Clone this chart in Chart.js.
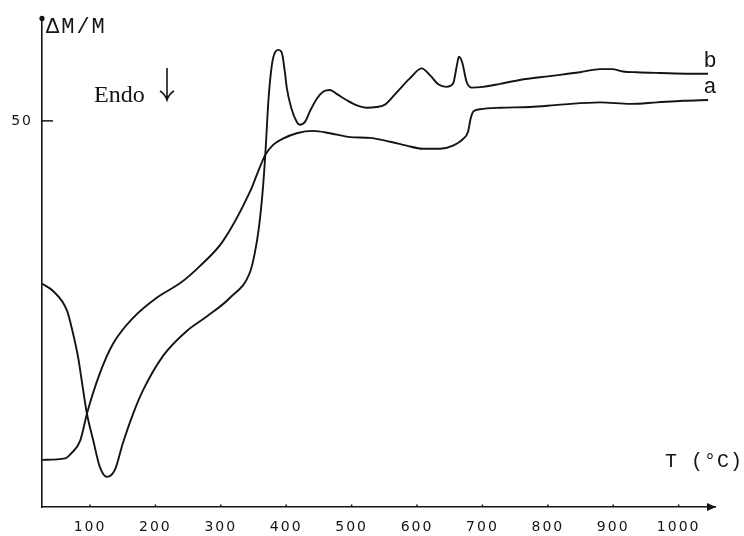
<!DOCTYPE html>
<html>
<head>
<meta charset="utf-8">
<script src="https://cdn.jsdelivr.net/npm/chart.js@4.4.1/dist/chart.umd.min.js"></script>
<style>
  html, body { margin: 0; padding: 0; background: #fff; }
  #wrap { width: 744px; height: 536px; }
</style>
</head>
<body>
<div id="wrap"><canvas id="dtg"></canvas></div>
<script>
// curve a (lower one at the right end)
var tempA = [27, 62, 72, 85, 96, 115, 135, 166, 202, 238, 268, 303, 345, 355, 368, 380, 395, 416, 441, 467, 498, 528, 559, 584, 609, 635, 655, 671, 678, 682, 686, 696, 727, 773, 819, 880, 926, 967, 1007, 1045];
var valA  = [6.1, 6.3, 7.0, 8.6, 12.3, 17.3, 21.1, 24.5, 27.1, 29.0, 31.2, 34.4, 40.9, 43.0, 45.6, 46.9, 47.7, 48.4, 48.7, 48.4, 47.9, 47.8, 47.3, 46.8, 46.4, 46.4, 46.8, 47.7, 48.6, 50.3, 51.2, 51.5, 51.7, 51.8, 52.1, 52.4, 52.2, 52.4, 52.6, 52.7];

// curve b (the one with the peaks)
var tempB = [27, 43, 65, 72, 82, 88, 95, 105, 115, 126, 138, 150, 166, 181, 212, 248, 279, 314, 345, 352, 358, 364, 368, 373, 378, 383, 388, 393, 398, 401, 408, 416, 421, 429, 436, 447, 457, 467, 477, 492, 508, 523, 538, 551, 569, 589, 607, 620, 633, 645, 655, 661, 664, 669, 676, 684, 701, 727, 757, 803, 849, 880, 898, 915, 936, 972, 1017, 1045];
var valB  = [28.9, 28.0, 25.4, 23.2, 19.3, 16.0, 12.2, 8.6, 5.2, 3.9, 4.8, 8.2, 12.1, 15.1, 19.6, 22.8, 24.7, 27.1, 30.5, 32.9, 36.0, 40.9, 45.6, 52.9, 57.2, 58.9, 59.2, 58.9, 56.3, 54.2, 51.6, 49.9, 49.5, 49.9, 51.2, 52.9, 53.8, 54.0, 53.5, 52.7, 52.0, 51.7, 51.8, 52.1, 53.7, 55.5, 56.8, 55.9, 54.7, 54.4, 54.8, 57.2, 58.3, 57.6, 55.0, 54.3, 54.4, 54.8, 55.3, 55.8, 56.3, 56.7, 56.7, 56.4, 56.3, 56.2, 56.1, 56.1];

var xTicks = [100, 200, 300, 400, 500, 600, 700, 800, 900, 1000];
var yTicks = [50];
var curveNames = ['a', 'b'];

function pares(t, v) {
  var out = [];
  for (var i = 0; i < t.length; i++) out.push({x: t[i], y: v[i]});
  return out;
}

var ink = '#141414';

var crtez = {
  id: 'crtez',
  beforeDraw: function(chart) {
    chart.ctx.letterSpacing = '2px';
  },
  afterDraw: function(chart) {
    var ctx = chart.ctx;
    var a = chart.chartArea;
    var xs = chart.scales.x, ys = chart.scales.y;
    ctx.save();
    ctx.letterSpacing = '0px';
    ctx.strokeStyle = ink;
    ctx.fillStyle = ink;
    ctx.lineWidth = 1.5;

    // small inner ticks on the T axis
    xTicks.forEach(function(t) {
      var px = xs.getPixelForValue(t);
      ctx.beginPath();
      ctx.moveTo(px, a.bottom);
      ctx.lineTo(px, a.bottom - 2.5);
      ctx.stroke();
    });
    // tick at 50, inward
    yTicks.forEach(function(v) {
      var py = ys.getPixelForValue(v);
      ctx.beginPath();
      ctx.moveTo(a.left, py);
      ctx.lineTo(a.left + 11, py);
      ctx.stroke();
    });

    // arrow head on T axis
    ctx.beginPath();
    ctx.moveTo(a.right + 1, a.bottom);
    ctx.lineTo(a.right - 8, a.bottom - 4);
    ctx.lineTo(a.right - 8, a.bottom + 4);
    ctx.closePath();
    ctx.fill();
    // dot on top of the y axis
    ctx.beginPath();
    ctx.arc(a.left, a.top + 1, 2.6, 0, Math.PI * 2);
    ctx.fill();

    // axis titles
    ctx.textBaseline = 'alphabetic';
    ctx.textAlign = 'left';
    ctx.font = '22px "Liberation Mono"';
    ctx.letterSpacing = '2px';
    ctx.fillText('\u0394M/M', a.left + 4, 33);
    ctx.font = '20px "Liberation Mono"';
    ctx.letterSpacing = '1px';
    ctx.fillText('T (\u00B0C)', 665, 467);
    ctx.letterSpacing = '0px';

    // Endo with arrow
    ctx.font = '24px "Liberation Serif"';
    ctx.fillText('Endo', 94, 102);
    ctx.lineWidth = 1.6;
    ctx.beginPath();
    ctx.moveTo(167, 68);
    ctx.lineTo(167, 100);
    ctx.moveTo(160, 91);
    ctx.quadraticCurveTo(165, 94, 167, 100);
    ctx.quadraticCurveTo(169, 94, 174, 91);
    ctx.stroke();

    // curve labels
    ctx.font = '22px "Liberation Mono"';
    ctx.textAlign = 'center';
    var lx = xs.getPixelForValue(tempB[tempB.length - 1]) + 2;
    ctx.fillText(curveNames[1], lx, ys.getPixelForValue(valB[valB.length - 1]) - 7);
    ctx.fillText(curveNames[0], lx, ys.getPixelForValue(valA[valA.length - 1]) - 7);
    ctx.restore();
  }
};

var sets = [
  {label: curveNames[0], data: pares(tempA, valA)},
  {label: curveNames[1], data: pares(tempB, valB)}
].map(function(d) {
  d.borderColor = ink;
  d.borderWidth = 1.9;
  d.pointRadius = 0;
  d.fill = false;
  d.cubicInterpolationMode = 'monotone';
  return d;
});

new Chart(document.getElementById('dtg'), {
  type: 'line',
  data: {datasets: sets},
  plugins: [crtez],
  options: {
    responsive: true,
    maintainAspectRatio: false,
    animation: false,
    layout: {padding: {top: 15, right: 29, left: 0, bottom: 0}},
    plugins: {legend: {display: false}, tooltip: {enabled: false}},
    scales: {
      x: {
        type: 'linear',
        min: 26.6,
        max: 1055.6,
        afterBuildTicks: function(s) { s.ticks = xTicks.map(function(v) { return {value: v}; }); },
        afterFit: function(s) { s.height = 29; },
        grid: {display: false, drawTicks: false},
        border: {display: true, color: ink, width: 1.6},
        ticks: {
          autoSkip: false, maxRotation: 0, padding: 12, color: ink,
          font: {family: '"DejaVu Sans"', size: 14},
          callback: function(v) { return String(v); }
        }
      },
      y: {
        type: 'linear',
        min: 0,
        max: 63.4,
        afterBuildTicks: function(s) { s.ticks = yTicks.map(function(v) { return {value: v}; }); },
        afterFit: function(s) { s.width = 42; },
        grid: {display: false, drawTicks: false},
        border: {display: true, color: ink, width: 1.6},
        ticks: {
          padding: 9, color: ink,
          font: {family: '"DejaVu Sans"', size: 14},
          callback: function(v) { return String(v); }
        }
      }
    }
  }
});
</script>
</body>
</html>
